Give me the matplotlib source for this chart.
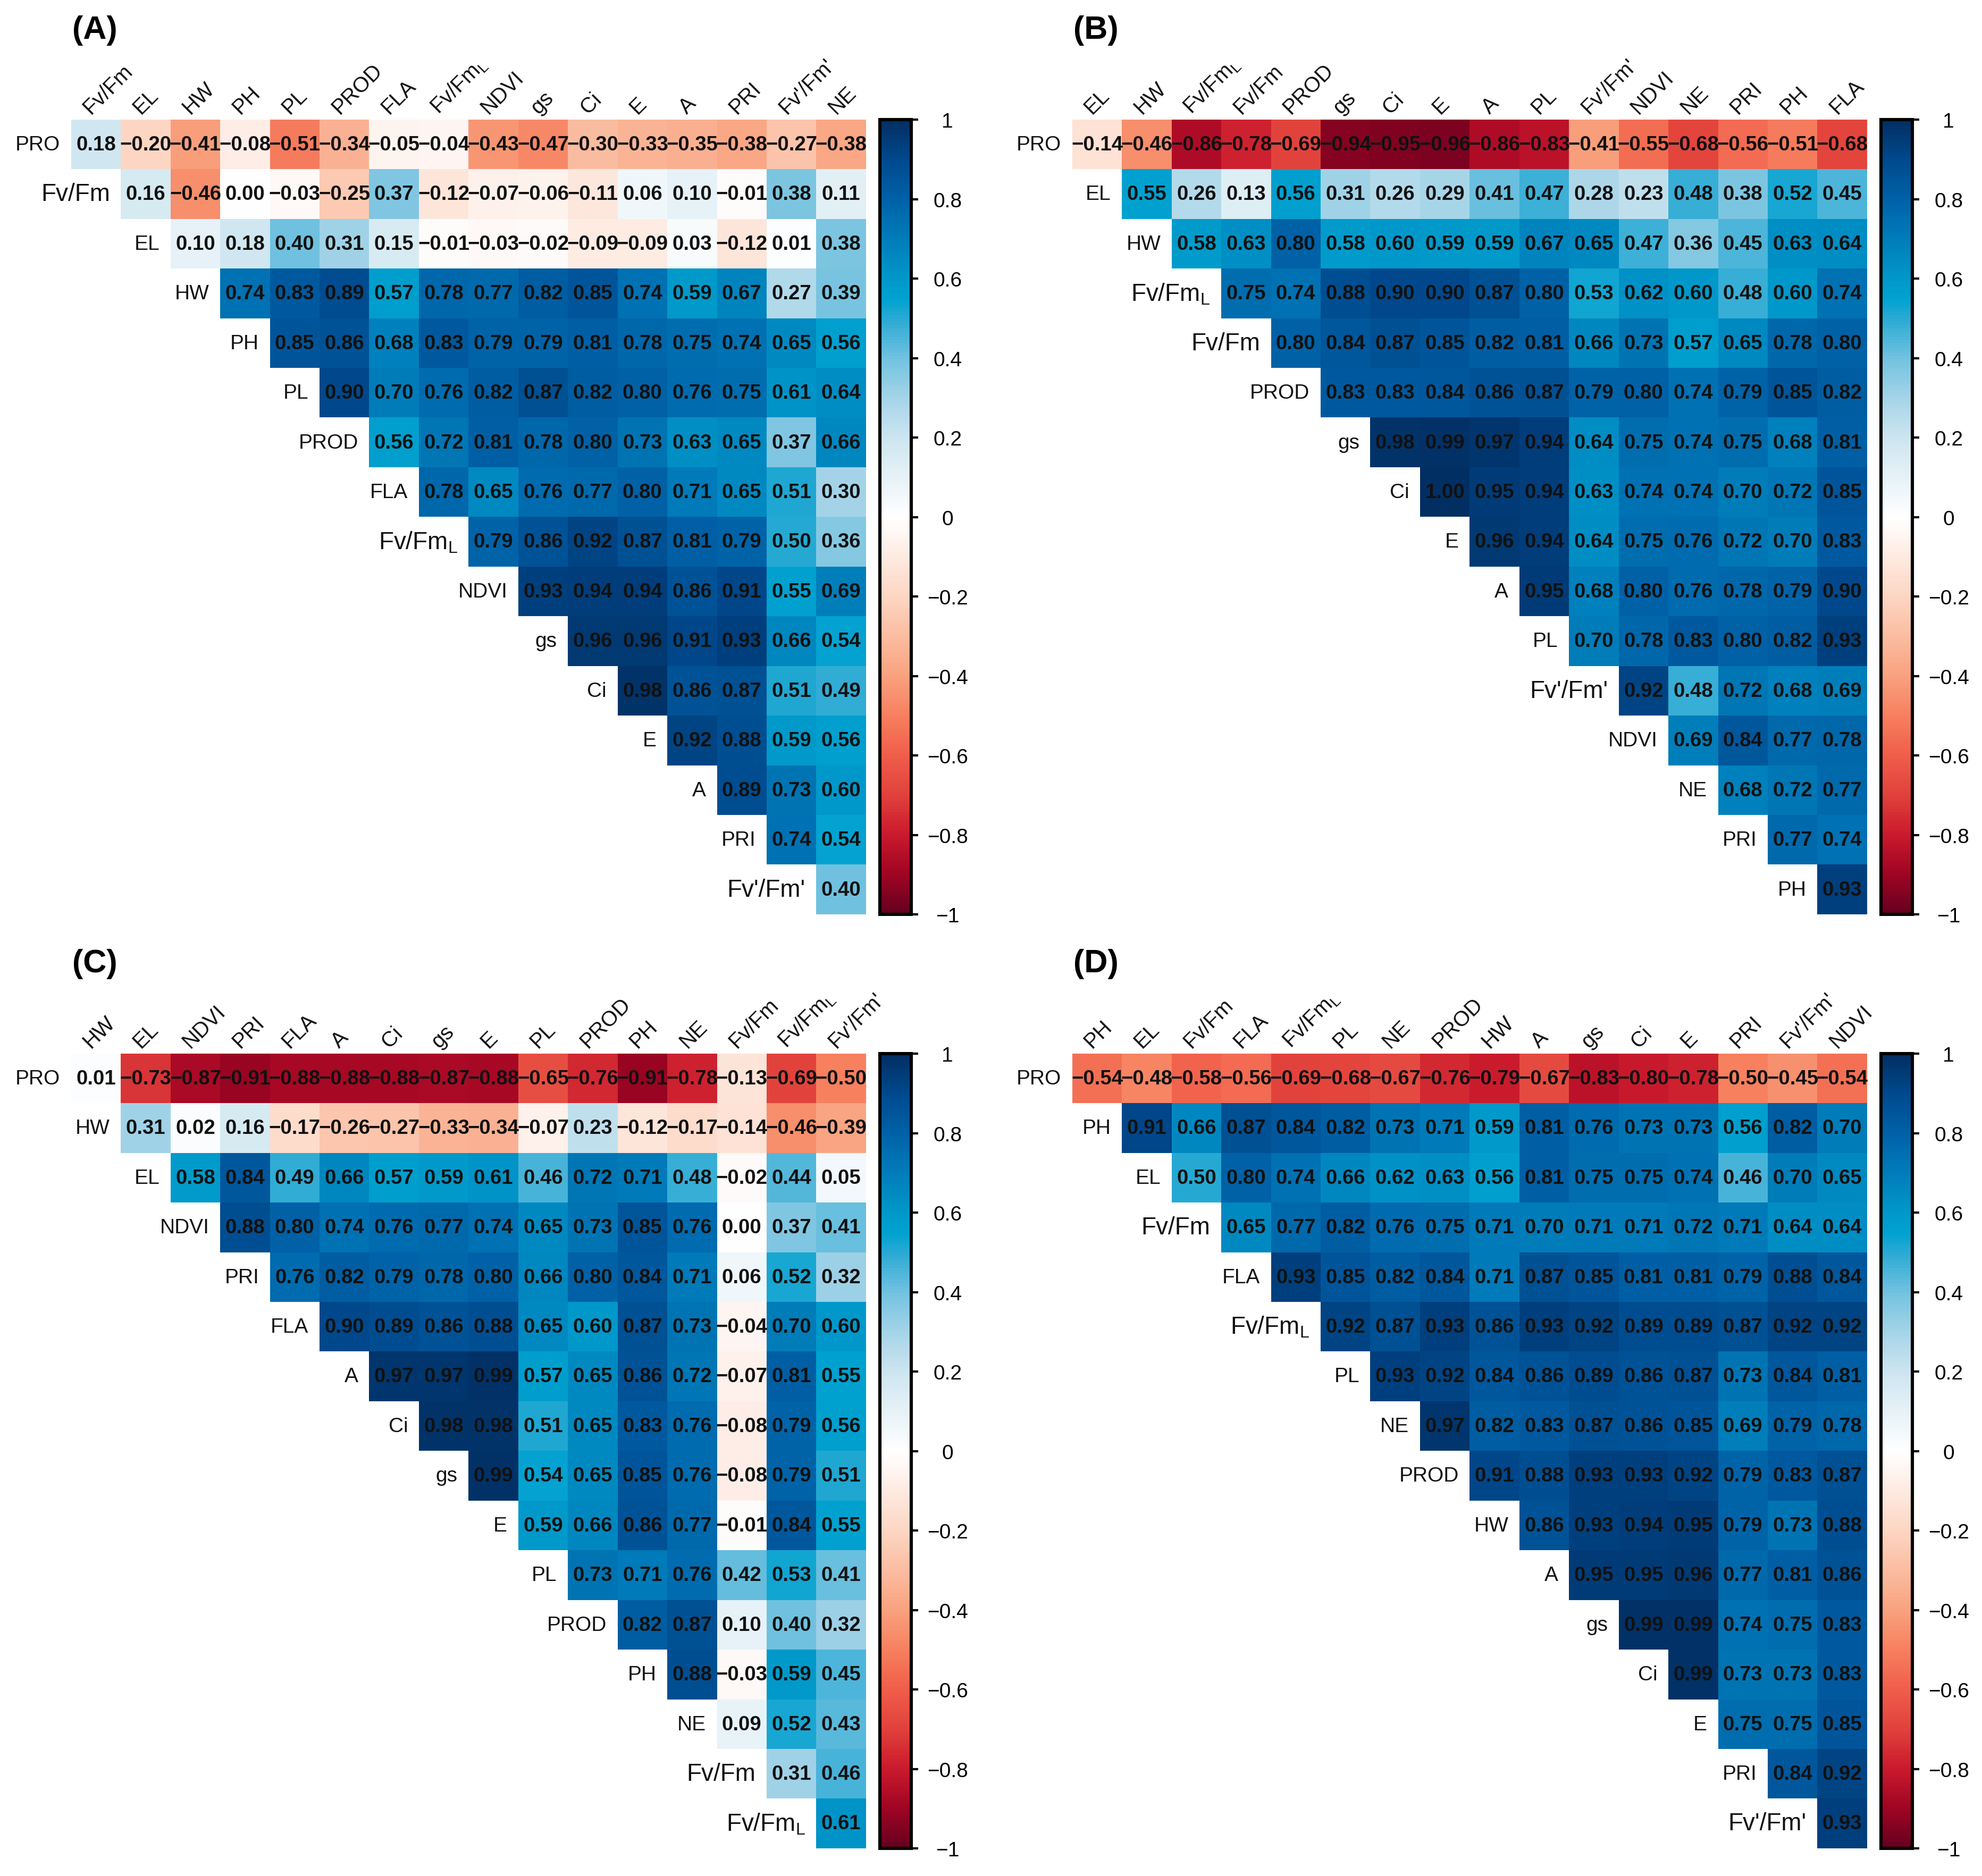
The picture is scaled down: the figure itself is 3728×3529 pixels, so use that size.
import numpy as np
import matplotlib.pyplot as plt
from matplotlib.colors import LinearSegmentedColormap

plt.rcParams['font.family'] = ['Liberation Sans', 'DejaVu Sans']
plt.rcParams['mathtext.fontset'] = 'custom'
plt.rcParams['mathtext.rm'] = 'Liberation Sans'

FVL = 'Fv/Fm$_\\mathregular{L}$'
FVP = "Fv'/Fm'"

# (A)
vars_a = ['PRO', 'Fv/Fm', 'EL', 'HW', 'PH', 'PL', 'PROD', 'FLA', FVL, 'NDVI',
          'gs', 'Ci', 'E', 'A', 'PRI', FVP, 'NE']
rows_a = [
    [0.18, -0.20, -0.41, -0.08, -0.51, -0.34, -0.05, -0.04, -0.43, -0.47, -0.30, -0.33, -0.35, -0.38, -0.27, -0.38],
    [0.16, -0.46, 0.00, -0.03, -0.25, 0.37, -0.12, -0.07, -0.06, -0.11, 0.06, 0.10, -0.01, 0.38, 0.11],
    [0.10, 0.18, 0.40, 0.31, 0.15, -0.01, -0.03, -0.02, -0.09, -0.09, 0.03, -0.12, 0.01, 0.38],
    [0.74, 0.83, 0.89, 0.57, 0.78, 0.77, 0.82, 0.85, 0.74, 0.59, 0.67, 0.27, 0.39],
    [0.85, 0.86, 0.68, 0.83, 0.79, 0.79, 0.81, 0.78, 0.75, 0.74, 0.65, 0.56],
    [0.90, 0.70, 0.76, 0.82, 0.87, 0.82, 0.80, 0.76, 0.75, 0.61, 0.64],
    [0.56, 0.72, 0.81, 0.78, 0.80, 0.73, 0.63, 0.65, 0.37, 0.66],
    [0.78, 0.65, 0.76, 0.77, 0.80, 0.71, 0.65, 0.51, 0.30],
    [0.79, 0.86, 0.92, 0.87, 0.81, 0.79, 0.50, 0.36],
    [0.93, 0.94, 0.94, 0.86, 0.91, 0.55, 0.69],
    [0.96, 0.96, 0.91, 0.93, 0.66, 0.54],
    [0.98, 0.86, 0.87, 0.51, 0.49],
    [0.92, 0.88, 0.59, 0.56],
    [0.89, 0.73, 0.60],
    [0.74, 0.54],
    [0.40],
]

# (B)
vars_b = ['PRO', 'EL', 'HW', FVL, 'Fv/Fm', 'PROD', 'gs', 'Ci', 'E', 'A', 'PL',
          FVP, 'NDVI', 'NE', 'PRI', 'PH', 'FLA']
rows_b = [
    [-0.14, -0.46, -0.86, -0.78, -0.69, -0.94, -0.95, -0.96, -0.86, -0.83, -0.41, -0.55, -0.68, -0.56, -0.51, -0.68],
    [0.55, 0.26, 0.13, 0.56, 0.31, 0.26, 0.29, 0.41, 0.47, 0.28, 0.23, 0.48, 0.38, 0.52, 0.45],
    [0.58, 0.63, 0.80, 0.58, 0.60, 0.59, 0.59, 0.67, 0.65, 0.47, 0.36, 0.45, 0.63, 0.64],
    [0.75, 0.74, 0.88, 0.90, 0.90, 0.87, 0.80, 0.53, 0.62, 0.60, 0.48, 0.60, 0.74],
    [0.80, 0.84, 0.87, 0.85, 0.82, 0.81, 0.66, 0.73, 0.57, 0.65, 0.78, 0.80],
    [0.83, 0.83, 0.84, 0.86, 0.87, 0.79, 0.80, 0.74, 0.79, 0.85, 0.82],
    [0.98, 0.99, 0.97, 0.94, 0.64, 0.75, 0.74, 0.75, 0.68, 0.81],
    [1.00, 0.95, 0.94, 0.63, 0.74, 0.74, 0.70, 0.72, 0.85],
    [0.96, 0.94, 0.64, 0.75, 0.76, 0.72, 0.70, 0.83],
    [0.95, 0.68, 0.80, 0.76, 0.78, 0.79, 0.90],
    [0.70, 0.78, 0.83, 0.80, 0.82, 0.93],
    [0.92, 0.48, 0.72, 0.68, 0.69],
    [0.69, 0.84, 0.77, 0.78],
    [0.68, 0.72, 0.77],
    [0.77, 0.74],
    [0.93],
]

# (C)
vars_c = ['PRO', 'HW', 'EL', 'NDVI', 'PRI', 'FLA', 'A', 'Ci', 'gs', 'E', 'PL',
          'PROD', 'PH', 'NE', 'Fv/Fm', FVL, FVP]
rows_c = [
    [0.01, -0.73, -0.87, -0.91, -0.88, -0.88, -0.88, -0.87, -0.88, -0.65, -0.76, -0.91, -0.78, -0.13, -0.69, -0.50],
    [0.31, 0.02, 0.16, -0.17, -0.26, -0.27, -0.33, -0.34, -0.07, 0.23, -0.12, -0.17, -0.14, -0.46, -0.39],
    [0.58, 0.84, 0.49, 0.66, 0.57, 0.59, 0.61, 0.46, 0.72, 0.71, 0.48, -0.02, 0.44, 0.05],
    [0.88, 0.80, 0.74, 0.76, 0.77, 0.74, 0.65, 0.73, 0.85, 0.76, 0.00, 0.37, 0.41],
    [0.76, 0.82, 0.79, 0.78, 0.80, 0.66, 0.80, 0.84, 0.71, 0.06, 0.52, 0.32],
    [0.90, 0.89, 0.86, 0.88, 0.65, 0.60, 0.87, 0.73, -0.04, 0.70, 0.60],
    [0.97, 0.97, 0.99, 0.57, 0.65, 0.86, 0.72, -0.07, 0.81, 0.55],
    [0.98, 0.98, 0.51, 0.65, 0.83, 0.76, -0.08, 0.79, 0.56],
    [0.99, 0.54, 0.65, 0.85, 0.76, -0.08, 0.79, 0.51],
    [0.59, 0.66, 0.86, 0.77, -0.01, 0.84, 0.55],
    [0.73, 0.71, 0.76, 0.42, 0.53, 0.41],
    [0.82, 0.87, 0.10, 0.40, 0.32],
    [0.88, -0.03, 0.59, 0.45],
    [0.09, 0.52, 0.43],
    [0.31, 0.46],
    [0.61],
]

# (D)
vars_d = ['PRO', 'PH', 'EL', 'Fv/Fm', 'FLA', FVL, 'PL', 'NE', 'PROD', 'HW', 'A',
          'gs', 'Ci', 'E', 'PRI', FVP, 'NDVI']
rows_d = [
    [-0.54, -0.48, -0.58, -0.56, -0.69, -0.68, -0.67, -0.76, -0.79, -0.67, -0.83, -0.80, -0.78, -0.50, -0.45, -0.54],
    [0.91, 0.66, 0.87, 0.84, 0.82, 0.73, 0.71, 0.59, 0.81, 0.76, 0.73, 0.73, 0.56, 0.82, 0.70],
    [0.50, 0.80, 0.74, 0.66, 0.62, 0.63, 0.56, 0.81, 0.75, 0.75, 0.74, 0.46, 0.70, 0.65],
    [0.65, 0.77, 0.82, 0.76, 0.75, 0.71, 0.70, 0.71, 0.71, 0.72, 0.71, 0.64, 0.64],
    [0.93, 0.85, 0.82, 0.84, 0.71, 0.87, 0.85, 0.81, 0.81, 0.79, 0.88, 0.84],
    [0.92, 0.87, 0.93, 0.86, 0.93, 0.92, 0.89, 0.89, 0.87, 0.92, 0.92],
    [0.93, 0.92, 0.84, 0.86, 0.89, 0.86, 0.87, 0.73, 0.84, 0.81],
    [0.97, 0.82, 0.83, 0.87, 0.86, 0.85, 0.69, 0.79, 0.78],
    [0.91, 0.88, 0.93, 0.93, 0.92, 0.79, 0.83, 0.87],
    [0.86, 0.93, 0.94, 0.95, 0.79, 0.73, 0.88],
    [0.95, 0.95, 0.96, 0.77, 0.81, 0.86],
    [0.99, 0.99, 0.74, 0.75, 0.83],
    [0.99, 0.73, 0.73, 0.83],
    [0.75, 0.75, 0.85],
    [0.84, 0.92],
    [0.93],
]

# colour ramp
cpos = [0.0, 0.05, 0.1, 0.15, 0.2, 0.25, 0.3, 0.35, 0.4, 0.45, 0.5,
        0.6, 0.65, 0.7, 0.75, 0.775, 0.8, 0.85, 0.9, 0.95, 1.0]
ccol = ['#67001F', '#A00523', '#CA1A2D', '#E1423C', '#F05E4A', '#F7805F',
        '#F9A27F', '#FBBDA1', '#FDD6C3', '#FEEAE1', '#FFFFFF',
        '#CDE5F0', '#A5D4E8', '#72C2E0', '#2BAAD4', '#00A2D0', '#0098CA',
        '#007DBA', '#0062A8', '#004A8E', '#022F63']
cmap = LinearSegmentedColormap.from_list('corr', list(zip(cpos, ccol)))

fig = plt.figure(figsize=(18.64, 17.65), dpi=200)

panels = [
    ('(A)', vars_a, rows_a, 0.0359, 0.5124),
    ('(B)', vars_b, rows_b, 0.5410, 0.5124),
    ('(C)', vars_c, rows_c, 0.0359, 0.0147),
    ('(D)', vars_d, rows_d, 0.5410, 0.0147),
]
W, H = 0.401, 0.4235
cb_dx, cb_w = 0.4081, 0.0158

ticks = np.round(np.arange(-1, 1.01, 0.2), 1) + 0.0
tick_labels = [('%g' % t).replace('-', '\u2212') for t in ticks]

for tag, names, rows, x0, y0 in panels:
    ax = fig.add_axes([x0, y0, W, H])
    cax = fig.add_axes([x0 + cb_dx, y0, cb_w, H])
    n = len(names) - 1
    mat = np.full((n, n), np.nan)
    for i, r in enumerate(rows):
        mat[i, i:] = r
    im = ax.imshow(mat, cmap=cmap, vmin=-1, vmax=1, aspect='auto',
                   interpolation='nearest')
    ax.set_xlim(-0.5, n - 0.5)
    ax.set_ylim(n - 0.5, -0.5)
    ax.axis('off')

    for i, r in enumerate(rows):
        for k, v in enumerate(r):
            ax.text(i + k, i, ('%.2f' % v).replace('-', '\u2212'),
                    ha='center', va='center', fontsize=13.8,
                    fontweight='bold', color='#111111')
        lab = names[i]
        fs = 16.5 if lab.startswith('Fv') else 14
        ax.text(i - 0.72, i, lab, ha='right', va='center', fontsize=fs,
                color='#111111')
    for j in range(n):
        ax.text(j - 0.1, -0.61, names[j + 1], rotation=45,
                rotation_mode='anchor', ha='left', va='baseline',
                fontsize=14.5, color='#111111')

    cb = fig.colorbar(im, cax=cax, ticks=ticks)
    cb.outline.set_linewidth(2.2)
    cb.ax.set_yticklabels(tick_labels)
    cb.ax.tick_params(direction='out', length=4.5, width=1.5, pad=20,
                      labelsize=14)
    for t in cb.ax.get_yticklabels():
        t.set_ha('center')

    fig.text(x0 + 0.0006, y0 + H + 0.056, tag, ha='left', va='top',
             fontsize=22, fontweight='bold')

fig.savefig('out.png', dpi=200)
